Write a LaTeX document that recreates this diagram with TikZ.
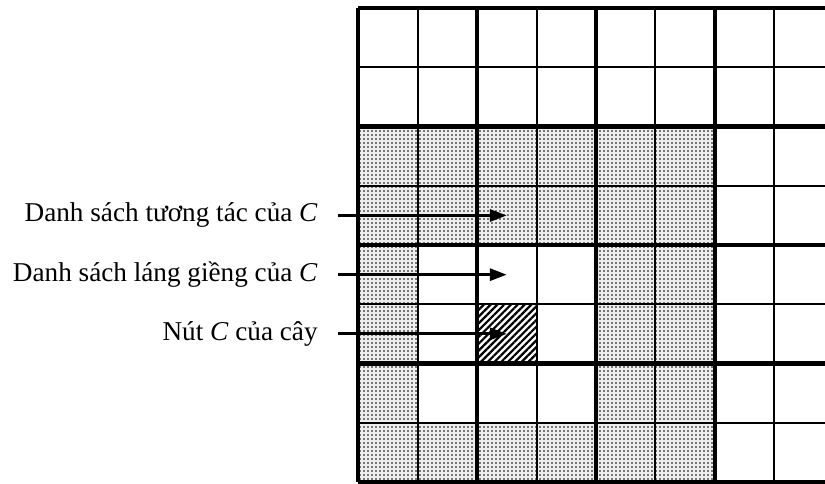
\documentclass[tikz,border=0pt]{standalone}
\usepackage{fontspec}
\setmainfont{Liberation Serif}
\usetikzlibrary{arrows.meta,positioning,patterns.meta}

\begin{document}
\begin{tikzpicture}[x=29.7pt, y=29.6pt, >={Triangle[length=8.5pt,width=6pt]},
  lbl/.style={anchor=east, inner sep=0pt, font=\fontsize{13.6}{16}\selectfont},
  arr/.style={->, line width=1.5pt, shorten <=10pt},
  thinline/.style={line width=1pt},
  thickline/.style={line width=2.2pt},
  dotfill/.style={fill=black!7, postaction={pattern={Dots[distance=2pt,radius=0.45pt]}}},
  hatchfill/.style={pattern={Lines[angle=45,distance=2.4pt,line width=1.1pt]}}]
  \useasboundingbox (-6.032,-0.019) rectangle (7.857,8.140);
  \clip (-6.032,-0.019) rectangle (7.857,8.140);
  \fill[dotfill, even odd rule] (0,0) rectangle (6,6) (1,1) rectangle (4,4);
  \fill[hatchfill] (2,2) rectangle (3,3);
  \foreach \k in {0,...,8} {
    \draw[thinline] (\k,0) -- (\k,8);
    \draw[thinline] (0,\k) -- (8,\k);
  }
  \foreach \k in {0,2,...,8} {
    \draw[thickline] (\k,0) -- (\k,8);
    \draw[thickline] (0,\k) -- (8,\k);
  }
  \coordinate (tInter) at (2.5,4.5);
  \coordinate (tNeigh) at (2.5,3.5);
  \coordinate (tNode) at (2.5,2.5);
  \node[lbl] (lInter) at (-0.678,4.5) {Danh sách tương tác của \textit{C}};
  \node[lbl] (lNeigh) at (-0.678,3.5) {Danh sách láng giềng của \textit{C}};
  \node[lbl] (lNode) at (-0.678,2.5) {Nút \textit{C} của cây};
  \draw[arr] (lInter) -- (tInter);
  \draw[arr] (lNeigh) -- (tNeigh);
  \draw[arr] (lNode) -- (tNode);
\end{tikzpicture}
\end{document}
